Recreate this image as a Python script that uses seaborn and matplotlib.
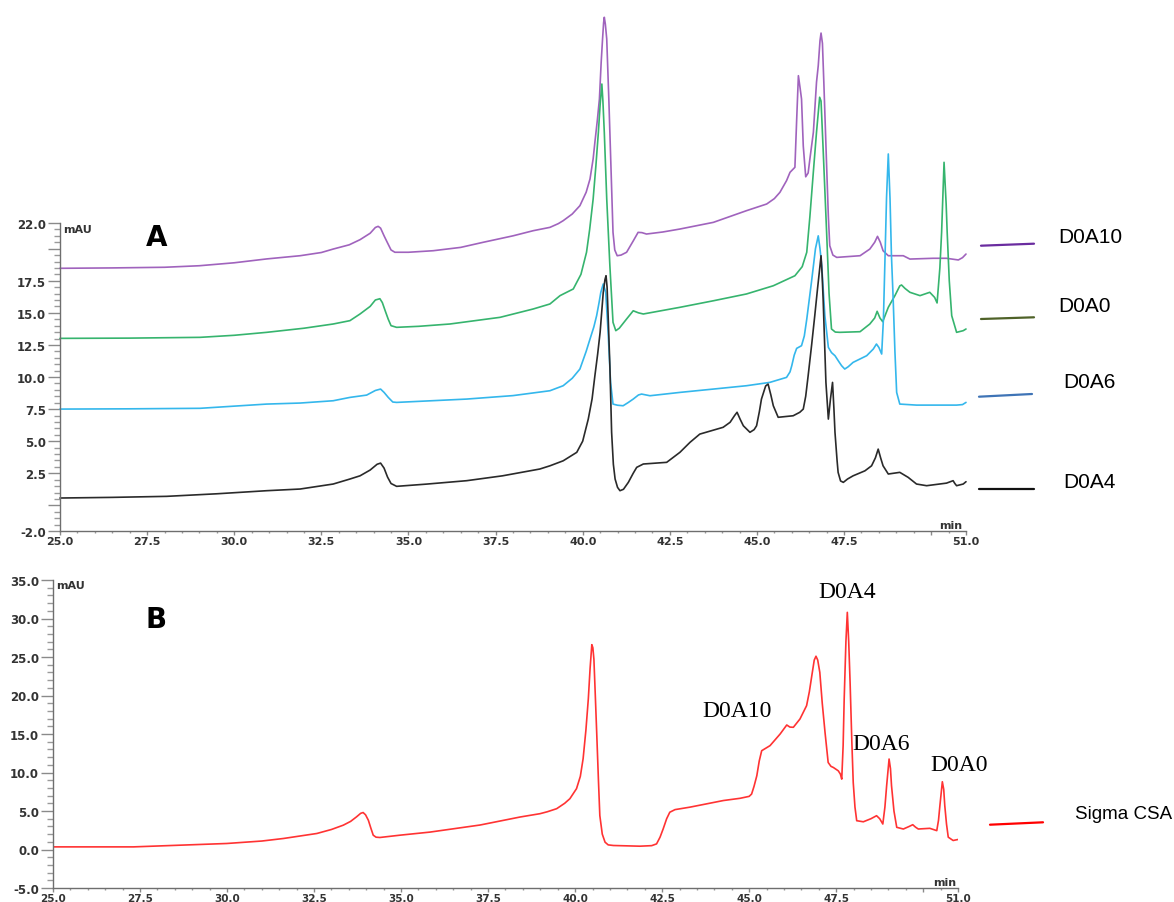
import numpy as np
import pandas as pd
import matplotlib
matplotlib.use("Agg")
import matplotlib.pyplot as plt
from matplotlib.ticker import MultipleLocator, FixedLocator, FixedFormatter
from matplotlib.lines import Line2D
import seaborn as sns

# ---------------- chromatogram data (time in min, signal in mAU) ----------------
# Panel A: stacked standards
t_d0a10 = [25.0, 26.5, 28.0, 29.0, 30.0, 30.93, 31.89, 32.5, 32.84, 33.3, 33.61, 33.9, 34.05,
           34.13, 34.2, 34.3, 34.39, 34.5, 34.61, 35.0, 35.71, 36.5, 37.15, 38.0, 38.58, 39.06,
           39.3, 39.44, 39.7, 39.92, 40.1, 40.21, 40.3, 40.35, 40.42, 40.48, 40.53, 40.57, 40.60,
           40.62, 40.65, 40.69, 40.75, 40.81, 40.87, 40.92, 40.99, 41.1, 41.26, 41.45, 41.59,
           41.7, 41.83, 42.3, 42.79, 43.75, 44.70, 45.28, 45.5, 45.66, 45.85, 45.95, 46.09,
           46.14, 46.19, 46.24, 46.28, 46.33, 46.40, 46.47, 46.52, 46.62, 46.71, 46.76, 46.81,
           46.84, 46.88, 46.92, 47.00, 47.05, 47.09, 47.18, 47.29, 47.96, 48.24, 48.38, 48.46,
           48.54, 48.62, 48.77, 49.20, 49.39, 50.06, 50.44, 50.78, 50.9, 51.0]
v_d0a10 = [18.47, 18.5, 18.55, 18.67, 18.9, 19.2, 19.45, 19.7, 19.97, 20.3, 20.7, 21.2, 21.65,
           21.74, 21.6, 21.0, 20.5, 19.9, 19.72, 19.72, 19.84, 20.1, 20.5, 21.0, 21.4, 21.66,
           21.95, 22.18, 22.7, 23.35, 24.4, 25.43, 27.0, 28.29, 30.0, 31.66, 34.5, 36.34, 37.6,
           38.03, 37.5, 36.34, 31.66, 26.47, 21.27, 19.9, 19.45, 19.5, 19.72, 20.6, 21.27,
           21.25, 21.14, 21.3, 21.53, 22.05, 22.96, 23.48, 23.9, 24.39, 25.3, 25.95, 26.34,
           30.0, 33.48, 32.5, 31.66, 28.0, 25.6, 25.9, 26.99, 29.07, 32.97, 34.26, 36.2,
           36.8, 36.0, 32.97, 26.47, 22.5, 20.23, 19.5, 19.32, 19.45, 19.97, 20.5, 20.96,
           20.5, 19.84, 19.45, 19.45, 19.19, 19.25, 19.25, 19.12, 19.3, 19.58]

t_d0a0 = [25.0, 27.0, 29.02, 30.0, 30.93, 32.0, 32.84, 33.32, 33.61, 33.9, 34.05, 34.18, 34.25,
          34.34, 34.42, 34.5, 34.66, 35.3, 36.19, 37.63, 38.58, 39.06, 39.35, 39.73, 39.95,
          40.11, 40.2, 40.30, 40.38, 40.45, 40.50, 40.55, 40.58, 40.62, 40.69, 40.78, 40.87,
          40.95, 41.05, 41.26, 41.45, 41.6, 41.74, 42.79, 43.75, 44.70, 45.47, 46.09, 46.3,
          46.43, 46.52, 46.62, 46.71, 46.80, 46.84, 46.90, 47.00, 47.07, 47.14, 47.25, 47.38,
          47.96, 48.24, 48.38, 48.45, 48.53, 48.61, 48.77, 48.96, 49.1, 49.15, 49.25, 49.39,
          49.68, 49.96, 50.1, 50.17, 50.25, 50.30, 50.37, 50.43, 50.46, 50.52, 50.59, 50.73,
          50.92, 51.0]
v_d0a0 = [13.01, 13.03, 13.09, 13.25, 13.48, 13.8, 14.13, 14.39, 14.91, 15.5, 16.0, 16.1, 15.8,
          15.1, 14.5, 14.0, 13.87, 13.95, 14.13, 14.65, 15.3, 15.69, 16.34, 16.86, 18.0,
          19.72, 21.5, 23.87, 26.5, 29.07, 31.2, 32.83, 31.5, 29.07, 23.87, 18.67, 14.26,
          13.61, 13.8, 14.52, 15.16, 15.0, 14.91, 15.43, 15.94, 16.47, 17.11, 17.89, 18.6,
          19.72, 22.5, 26.0, 29.07, 31.8, 31.5, 27.77, 21.27, 16.5, 13.74, 13.5, 13.48,
          13.53, 14.13, 14.6, 15.12, 14.6, 14.31, 15.43, 16.34, 17.1, 17.17, 16.9, 16.6,
          16.34, 16.6, 16.2, 15.77, 18.5, 21.27, 26.73, 23.5, 21.27, 17.5, 14.78, 13.48,
          13.61, 13.74]

t_d0a6 = [25.0, 27.0, 29.02, 30.93, 31.89, 32.84, 33.32, 33.80, 34.05, 34.20, 34.3, 34.42,
          34.55, 34.66, 36.67, 38.0, 39.06, 39.44, 39.7, 39.92, 40.1, 40.21, 40.32, 40.40,
          40.47, 40.52, 40.59, 40.66, 40.73, 40.80, 40.87, 41.0, 41.16, 41.3, 41.45, 41.6,
          41.69, 41.93, 42.79, 43.75, 44.70, 45.37, 45.85, 45.95, 46.00, 46.07, 46.14, 46.28,
          46.36, 46.43, 46.50, 46.57, 46.68, 46.76, 46.81, 46.86, 46.95, 47.05, 47.14, 47.24,
          47.35, 47.43, 47.52, 47.62, 47.76, 48.15, 48.34, 48.43, 48.5, 48.58, 48.63, 48.67,
          48.72, 48.77, 48.82, 48.86, 48.91, 48.96, 49.01, 49.10, 49.58, 50.73, 50.9, 51.0]
v_d0a6 = [7.5, 7.52, 7.56, 7.89, 7.97, 8.15, 8.41, 8.59, 8.95, 9.06, 8.8, 8.41,
          8.05, 8.02, 8.28, 8.55, 8.93, 9.32, 9.9, 10.62, 12.0, 12.96, 13.9, 14.78,
          15.8, 16.6, 17.25, 16.6, 13.48, 9.58, 7.89, 7.8, 7.76, 8.0, 8.28, 8.6,
          8.67, 8.54, 8.8, 9.06, 9.32, 9.58, 9.97, 10.4, 10.88, 11.7, 12.23, 12.44,
          13.2, 14.5, 16.0, 17.5, 20.0, 21.0, 20.0, 18.67, 14.78, 12.31, 11.9, 11.66,
          11.2, 10.88, 10.62, 10.8, 11.14, 11.66, 12.18, 12.57, 12.3, 11.79, 14.5, 18.67,
          24.0, 27.38, 23.87, 19.5, 16.08, 12.0, 8.8, 7.89, 7.81, 7.81, 7.85, 8.02]

t_d0a4 = [25.0, 26.5, 28.06, 29.5, 30.93, 31.89, 32.84, 33.32, 33.61, 33.9, 34.1, 34.20, 34.3,
          34.4, 34.5, 34.66, 35.5, 36.67, 37.7, 38.77, 39.06, 39.44, 39.83, 40.0, 40.16, 40.27,
          40.35, 40.43, 40.50, 40.59, 40.64, 40.67, 40.70, 40.73, 40.78, 40.83, 40.88, 40.93,
          41.0, 41.07, 41.17, 41.31, 41.45, 41.55, 41.74, 42.41, 42.79, 43.08, 43.36, 44.03,
          44.23, 44.36, 44.43, 44.52, 44.61, 44.80, 44.92, 44.99, 45.07, 45.13, 45.25, 45.32,
          45.40, 45.47, 45.61, 46.04, 46.23, 46.33, 46.40, 46.47, 46.57, 46.66, 46.74, 46.79,
          46.84, 46.87, 46.90, 46.95, 46.98, 47.05, 47.11, 47.17, 47.21, 47.24, 47.30, 47.33,
          47.40, 47.48, 47.6, 47.76, 48.10, 48.29, 48.4, 48.48, 48.55, 48.62, 48.77, 49.10,
          49.34, 49.58, 49.87, 50.44, 50.63, 50.68, 50.73, 50.92, 51.0]
v_d0a4 = [0.57, 0.62, 0.7, 0.9, 1.14, 1.27, 1.66, 2.05, 2.3, 2.75, 3.2, 3.29, 2.9,
          2.2, 1.7, 1.48, 1.65, 1.92, 2.3, 2.83, 3.08, 3.47, 4.13, 5.0, 6.72, 8.3,
          10.1, 11.8, 13.48, 16.6, 17.6, 17.89, 17.0, 14.78, 10.88, 5.69, 3.2, 2.05,
          1.4, 1.14, 1.25, 1.79, 2.5, 2.96, 3.22, 3.35, 4.13, 4.91, 5.55, 6.08,
          6.47, 7.0, 7.25, 6.7, 6.2, 5.69, 5.9, 6.2, 7.3, 8.28, 9.3, 9.45,
          8.6, 7.76, 6.86, 6.98, 7.25, 7.5, 8.5, 10.1, 12.5, 14.78, 16.9, 18.16,
          19.45, 18.0, 16.08, 12.0, 9.58, 6.72, 8.28, 9.58, 7.5, 5.69, 3.5, 2.57,
          1.9, 1.79, 2.05, 2.3, 2.69, 3.08, 3.7, 4.38, 3.7, 3.08, 2.44, 2.57,
          2.18, 1.66, 1.53, 1.73, 1.92, 1.7, 1.53, 1.66, 1.84]

# Panel B: commercial chondroitin sulfate A
t_csa = [25.0, 27.31, 29.99, 31.0, 31.62, 32.58, 33.0, 33.34, 33.55, 33.72, 33.84, 33.91,
         33.98, 34.06, 34.13, 34.20, 34.28, 34.39, 34.97, 35.83, 37.27, 38.42, 38.99, 39.2,
         39.47, 39.7, 39.85, 40.04, 40.15, 40.23, 40.31, 40.38, 40.43, 40.48, 40.51, 40.54,
         40.58, 40.62, 40.67, 40.71, 40.78, 40.86, 40.95, 41.10, 41.86, 42.2, 42.34, 42.44,
         42.53, 42.63, 42.72, 42.87, 43.30, 44.26, 44.74, 45.0, 45.07, 45.14, 45.22, 45.29,
         45.36, 45.60, 45.89, 46.08, 46.17, 46.27, 46.46, 46.65, 46.73, 46.80, 46.87, 46.92,
         46.97, 47.03, 47.10, 47.18, 47.27, 47.35, 47.42, 47.56, 47.62, 47.66, 47.70, 47.73,
         47.78, 47.82, 47.86, 47.90, 47.95, 47.99, 48.04, 48.09, 48.28, 48.5, 48.66, 48.75,
         48.84, 48.9, 48.95, 49.02, 49.06, 49.09, 49.16, 49.24, 49.43, 49.60, 49.70, 49.78,
         49.86, 50.19, 50.39, 50.44, 50.48, 50.55, 50.59, 50.62, 50.67, 50.72, 50.86, 51.0]
v_csa = [0.34, 0.34, 0.78, 1.1, 1.43, 2.08, 2.6, 3.16, 3.65, 4.24, 4.7, 4.8,
         4.5, 3.8, 2.8, 1.86, 1.6, 1.56, 1.86, 2.26, 3.18, 4.22, 4.65, 4.9,
         5.3, 6.0, 6.6, 7.9, 9.5, 11.8, 15.5, 19.6, 23.5, 26.6, 26.2, 24.7,
         20.0, 15.2, 9.0, 4.4, 2.0, 0.95, 0.6, 0.52, 0.43, 0.5, 0.73, 1.6,
         2.68, 4.0, 4.84, 5.18, 5.5, 6.36, 6.65, 6.9, 7.2, 8.2, 9.58, 11.5,
         12.83, 13.49, 15.0, 16.17, 15.9, 15.87, 16.95, 18.68, 20.5, 22.57, 24.6, 25.1,
         24.6, 23.0, 19.0, 15.2, 11.3, 10.8, 10.65, 10.22, 9.8, 9.14, 13.5, 19.5,
         27.0, 30.8, 27.0, 21.7, 14.0, 8.7, 5.5, 3.74, 3.6, 4.0, 4.39, 4.0,
         3.31, 5.5, 8.29, 11.75, 10.5, 8.29, 5.0, 2.88, 2.66, 3.0, 3.22, 2.9,
         2.66, 2.75, 2.45, 3.8, 5.7, 8.8, 7.8, 5.7, 3.3, 1.6, 1.17, 1.3]

series_a = ["D0A10", "D0A0", "D0A6", "D0A4"]
trace_colors = {"D0A10": "#a063bd", "D0A0": "#36b46e", "D0A6": "#34b7ec", "D0A4": "#2a2a2a"}
key_colors = {"D0A10": "#6a2c9f", "D0A0": "#4f6228", "D0A6": "#3f74b6", "D0A4": "#111111"}

peak_labels = ["D0A10", "D0A4", "D0A6", "D0A0"]
sample_b = "Sigma CSA"

df_a = pd.concat([
    pd.DataFrame({"time": t, "mAU": v, "sample": name})
    for name, t, v in [("D0A10", t_d0a10, v_d0a10), ("D0A0", t_d0a0, v_d0a0),
                       ("D0A6", t_d0a6, v_d0a6), ("D0A4", t_d0a4, v_d0a4)]
], ignore_index=True)
df_b = pd.DataFrame({"time": t_csa, "mAU": v_csa, "sample": sample_b})

# ---------------- figure ----------------
sns.set_theme(style="white")
plt.rcParams["font.family"] = ["DejaVu Sans"]

W, H = 1174, 903
fig = plt.figure(figsize=(W / 100, H / 100), dpi=100)


def box(x0, y0, x1, y1):
    """pixel box (top-left origin) -> figure-fraction rect"""
    return [x0 / W, 1 - y1 / H, (x1 - x0) / W, (y1 - y0) / H]


def fx(x):
    return x / W


def fy(y):
    return 1 - y / H


ax_a = fig.add_axes(box(60, 224, 966, 532))
ax_b = fig.add_axes(box(53, 581, 958, 889))

sns.lineplot(data=df_a, x="time", y="mAU", hue="sample", palette=trace_colors,
             hue_order=series_a, estimator=None, sort=False, legend=False,
             linewidth=1.2, ax=ax_a)
for ln in ax_a.lines:
    ln.set_clip_on(False)
    ln.set_solid_joinstyle("round")

sns.lineplot(data=df_b, x="time", y="mAU", color="#ff3333", estimator=None,
             sort=False, legend=False, linewidth=1.2, ax=ax_b)
for ln in ax_b.lines:
    ln.set_solid_joinstyle("round")

tick_color = "#333333"
axis_grey = "#6e6e6e"


def style_axis(ax, ylo, yhi, ymajor, ylabels, yminor):
    ax.set_xlim(25, 51)
    ax.set_ylim(ylo, yhi)
    ax.set_xlabel("")
    ax.set_ylabel("")
    for s in ["top", "right"]:
        ax.spines[s].set_visible(False)
    for s in ["left", "bottom"]:
        ax.spines[s].set_color(axis_grey)
        ax.spines[s].set_linewidth(1.0)
    xmajor = [25, 27.5, 30, 32.5, 35, 37.5, 40, 42.5, 45, 47.5, 50, 51]
    xlabels = ["25.0", "27.5", "30.0", "32.5", "35.0", "37.5", "40.0", "42.5",
               "45.0", "47.5", "", "51.0"]
    ax.xaxis.set_major_locator(FixedLocator(xmajor))
    ax.xaxis.set_major_formatter(FixedFormatter(xlabels))
    ax.xaxis.set_minor_locator(MultipleLocator(0.5))
    ax.yaxis.set_major_locator(FixedLocator(ymajor))
    ax.yaxis.set_major_formatter(FixedFormatter(ylabels))
    ax.yaxis.set_minor_locator(MultipleLocator(yminor))
    ax.tick_params(axis="y", which="major", direction="out", length=9, width=1,
                   color="#8a8a8a", pad=1, left=True)
    ax.tick_params(axis="y", which="minor", direction="out", length=4, width=1,
                   color="#9a9a9a", left=True)
    ax.tick_params(axis="x", which="major", direction="out", length=3, width=1,
                   color="#8a8a8a", pad=0.5, bottom=True)
    ax.tick_params(axis="x", which="minor", direction="out", length=1.5, width=1,
                   color="#9a9a9a", bottom=True)
    for lab in ax.get_yticklabels():
        lab.set_fontsize(8.5)
        lab.set_fontweight("bold")
        lab.set_color(tick_color)
    for lab in ax.get_xticklabels():
        lab.set_fontsize(8)
        lab.set_fontweight("bold")
        lab.set_color(tick_color)
    ax.grid(False)
    ax.set_facecolor("none")


ya_major = [-2, 0, 2.5, 5, 7.5, 10, 12.5, 15, 17.5, 20, 22]
ya_labels = ["-2.0", "", "2.5", "5.0", "7.5", "10.0", "12.5", "15.0", "17.5", "", "22.0"]
style_axis(ax_a, -2, 22, ya_major, ya_labels, 0.5)

yb_major = [-5, 0, 5, 10, 15, 20, 25, 30, 35]
yb_labels = ["-5.0", "0.0", "5.0", "10.0", "15.0", "20.0", "25.0", "30.0", "35.0"]
style_axis(ax_b, -5, 35, yb_major, yb_labels, 1)
for lab in ax_b.get_xticklabels():
    lab.set_fontsize(7.5)

# unit captions
fig.text(fx(63), fy(230), "mAU", fontsize=8, fontweight="bold", color=tick_color, va="center")
fig.text(fx(56), fy(586), "mAU", fontsize=8, fontweight="bold", color=tick_color, va="center")
fig.text(fx(962), fy(526), "min", fontsize=8, fontweight="bold", color=tick_color,
         ha="right", va="center")
fig.text(fx(956), fy(883), "min", fontsize=8, fontweight="bold", color=tick_color,
         ha="right", va="center")

# panel letters
fig.text(fx(146), fy(238), "A", fontsize=20, fontweight="bold", color="black", va="center")
fig.text(fx(145), fy(620), "B", fontsize=20, fontweight="bold", color="black", va="center")

# sample keys at the right
key_font = ["Liberation Sans", "DejaVu Sans"]
key_rows = [("D0A10", 981, 1034, 246.7, 244.7, 1058, 237.5),
            ("D0A0", 981, 1034, 320.0, 318.3, 1058, 306.0),
            ("D0A6", 979, 1032, 397.7, 395.0, 1063, 383.0),
            ("D0A4", 979, 1034, 490.0, 490.0, 1063, 483.0)]
for name, x0, x1, y0, y1, tx, ty in key_rows:
    fig.add_artist(Line2D([fx(x0), fx(x1)], [fy(y0), fy(y1)], color=key_colors[name],
                          linewidth=1.6, transform=fig.transFigure))
    fig.text(fx(tx), fy(ty), name, fontsize=15, family=key_font, color="black", va="center")

fig.add_artist(Line2D([fx(990), fx(1043)], [fy(825.7), fy(823.3)], color="#ff0000",
                      linewidth=1.6, transform=fig.transFigure))
fig.text(fx(1075), fy(815), sample_b, fontsize=13.5, family=key_font, color="black",
         va="center")

# peak assignments in panel B
serif = ["Liberation Serif", "DejaVu Serif"]
label_pos = {"D0A10": (702, 717), "D0A4": (818, 598), "D0A6": (852, 750), "D0A0": (930, 771.5)}
for name in peak_labels:
    px, py = label_pos[name]
    fig.text(fx(px), fy(py), name, fontsize=17, family=serif, color="black",
             va="baseline", ha="left")

fig.savefig("out.png", dpi=100, facecolor="white")
